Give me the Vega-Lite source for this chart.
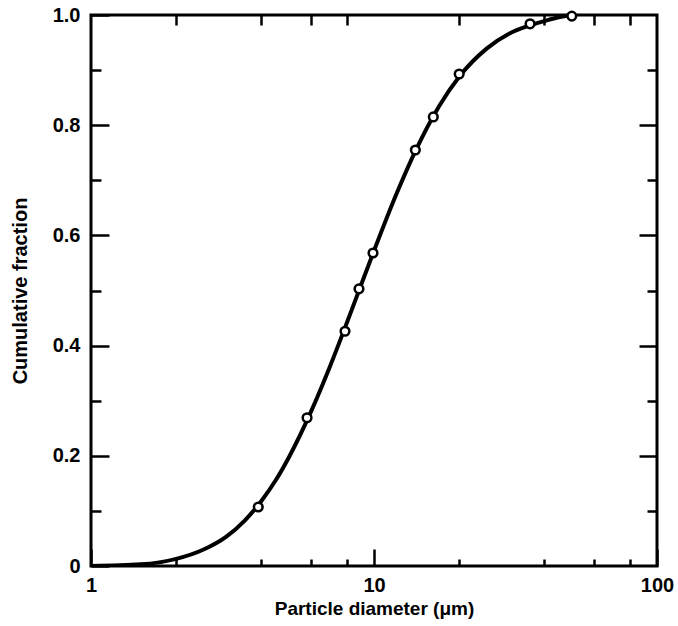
{
  "$schema": "https://vega.github.io/schema/vega-lite/v6.json",
  "autosize": "none",
  "padding": {"left": 91, "top": 15, "right": 21, "bottom": 60},
  "width": 566,
  "height": 551,
  "background": "white",
  "config": {
    "view": {"stroke": "black", "strokeWidth": 3},
    "axis": {
      "labelFont": "Liberation Sans",
      "labelFontWeight": "bold",
      "labelFontSize": 20,
      "labelColor": "black",
      "titleFont": "Liberation Sans",
      "titleFontWeight": "bold",
      "titleFontSize": 19,
      "titleColor": "black",
      "tickColor": "black",
      "tickWidth": 2.5,
      "domain": false,
      "grid": false,
      "labelFlush": false,
      "labelOverlap": false
    }
  },
  "datasets": {
    "curve": [
      {"d": 1.0, "f": 0.0},
      {"d": 1.5, "f": 0.003},
      {"d": 2.0, "f": 0.013},
      {"d": 2.5, "f": 0.03},
      {"d": 3.0, "f": 0.053},
      {"d": 3.5, "f": 0.083},
      {"d": 4.0, "f": 0.118},
      {"d": 4.5, "f": 0.156},
      {"d": 5.0, "f": 0.197},
      {"d": 6.0, "f": 0.281},
      {"d": 7.0, "f": 0.363},
      {"d": 8.0, "f": 0.44},
      {"d": 9.0, "f": 0.51},
      {"d": 10.0, "f": 0.572},
      {"d": 12.0, "f": 0.675},
      {"d": 14.0, "f": 0.753},
      {"d": 17.0, "f": 0.835},
      {"d": 20.0, "f": 0.888},
      {"d": 25.0, "f": 0.939},
      {"d": 30.0, "f": 0.966},
      {"d": 35.0, "f": 0.98},
      {"d": 40.0, "f": 0.989},
      {"d": 45.0, "f": 0.996},
      {"d": 50.0, "f": 1.0}
    ],
    "measured": [
      {"d": 3.9, "f": 0.107},
      {"d": 5.8, "f": 0.269},
      {"d": 7.9, "f": 0.426},
      {"d": 8.85, "f": 0.503},
      {"d": 9.92, "f": 0.568},
      {"d": 14.0, "f": 0.755},
      {"d": 16.2, "f": 0.815},
      {"d": 20.0, "f": 0.893},
      {"d": 35.6, "f": 0.984},
      {"d": 50.0, "f": 0.998}
    ]
  },
  "layer": [
    {
      "data": {"name": "curve"},
      "mark": {"type": "line", "color": "black", "strokeWidth": 4, "interpolate": "monotone", "clip": true},
      "encoding": {
        "x": {
          "field": "d", "type": "quantitative",
          "scale": {"type": "log", "domain": [1, 100], "nice": false},
          "axis": {
            "orient": "bottom",
            "title": "Particle diameter (μm)",
            "values": [1, 2, 4, 6, 8, 10, 20, 40, 60, 80, 100],
            "labelExpr": "(datum.value == 1 || datum.value == 10 || datum.value == 100) ? format(datum.value, 'd') : ''",
            "tickSize": {"condition": {"test": "datum.value == 1 || datum.value == 10 || datum.value == 100", "value": -17}, "value": -7},
            "labelPadding": 26,
            "titlePadding": -6
          }
        },
        "y": {
          "field": "f", "type": "quantitative",
          "scale": {"domain": [0, 1], "nice": false, "zero": false},
          "axis": {
            "orient": "left",
            "title": "Cumulative fraction",
            "titleFontSize": 20,
            "values": [0, 0.1, 0.2, 0.3, 0.4, 0.5, 0.6, 0.7, 0.8, 0.9, 1.0],
            "labelExpr": "round(datum.value * 10) % 2 == 0 ? (datum.value == 0 ? '0' : format(datum.value, '.1f')) : ''",
            "tickSize": {"condition": {"test": "round(datum.value * 10) % 2 == 0", "value": -18}, "value": -10},
            "labelPadding": 29,
            "titlePadding": 22
          }
        }
      }
    },
    {
      "data": {"name": "measured"},
      "mark": {"type": "point", "shape": "circle", "filled": false, "fill": "white", "fillOpacity": 1, "stroke": "black", "strokeWidth": 2.5, "size": 75, "opacity": 1},
      "encoding": {
        "x": {
          "field": "d", "type": "quantitative",
          "scale": {"type": "log", "domain": [1, 100], "nice": false},
          "axis": {
            "orient": "top",
            "title": null,
            "labels": false,
            "values": [2, 4, 6, 8, 20, 40, 60, 80],
            "tickSize": -10
          }
        },
        "y": {
          "field": "f", "type": "quantitative",
          "scale": {"domain": [0, 1], "nice": false, "zero": false},
          "axis": {
            "orient": "right",
            "title": null,
            "labels": false,
            "values": [0.1, 0.2, 0.3, 0.4, 0.5, 0.6, 0.7, 0.8, 0.9],
            "tickSize": {"condition": {"test": "round(datum.value * 10) % 2 == 0", "value": -18}, "value": -10}
          }
        }
      }
    }
  ],
  "resolve": {"axis": {"x": "independent", "y": "independent"}}
}
